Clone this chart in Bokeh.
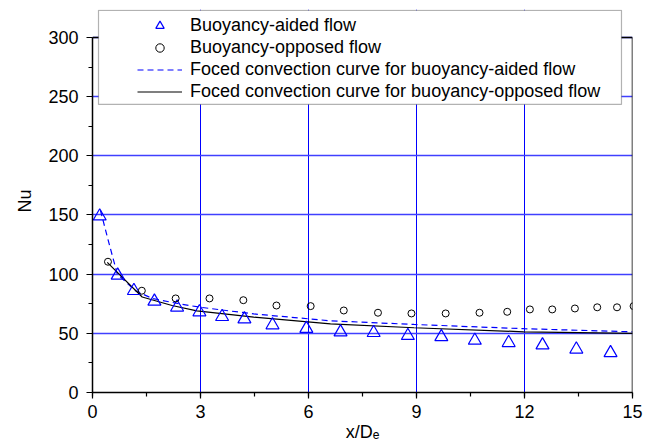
from bokeh.plotting import figure
from bokeh.models import (Range1d, SingleIntervalTicker, Legend, LegendItem,
                          BoxAnnotation)
from bokeh.embed import file_html
from bokeh.resources import INLINE

# ---- data ----
aided_x = [0.2, 0.7, 1.15, 1.72, 2.35, 2.97, 3.6, 4.22, 5.0, 5.94, 6.89, 7.81,
           8.76, 9.69, 10.62, 11.56, 12.5, 13.44, 14.39]
aided_y = [149, 99, 86, 77, 72, 68, 64, 62, 57, 54, 51, 50.5, 48, 47, 44, 42,
           40, 36.5, 33.5]

opposed_x = [0.43, 1.37, 2.31, 3.25, 4.19, 5.11, 6.06, 6.98, 7.93, 8.86, 9.81,
             10.75, 11.52, 12.15, 12.77, 13.4, 14.02, 14.57, 15.03]
opposed_y = [110.5, 86, 79.5, 79.5, 78, 73.5, 73, 69.3, 67.4, 66.8, 66.8, 67.4,
             68.2, 70.2, 70.2, 71, 72, 72, 73]

forced_aided_x = [0.22, 0.45, 0.69, 1.19, 1.66, 2.4, 3.0, 4.48, 6.61, 8.93, 11.98, 15.0]
forced_aided_y = [154, 127, 100, 86, 79.5, 75, 72, 66.4, 60.6, 57.5, 53.9, 51.3]

forced_opposed_x = [0.41, 1.38, 2.21, 2.9, 4.48, 6.61, 8.93, 11.98, 15.0]
forced_opposed_y = [110, 80.7, 73.5, 69.0, 63.7, 58, 54.7, 51.3, 49.9]

labels = ["Buoyancy-aided flow",
          "Buoyancy-opposed flow",
          "Foced convection curve for buoyancy-aided flow",
          "Foced convection curve for buoyancy-opposed flow"]

X_MAX = 15
Y_MAX = 300

FONT = "Liberation Sans"
BLUE = "#0000ff"

# the frame reaches above y=300 so that the legend box (which overlaps the
# top of the axes box) is not clipped; the axes box itself is drawn to 300.
p = figure(width=659, height=448, output_backend="svg", toolbar_location=None,
           x_range=Range1d(0, X_MAX), y_range=Range1d(0, 323.66),
           min_border_left=92, min_border_right=27,
           min_border_top=9, min_border_bottom=56)
p.background_fill_color = "white"
p.border_fill_color = "white"
p.outline_line_color = None

# axes
p.xaxis.ticker = SingleIntervalTicker(interval=3, num_minor_ticks=2)
p.yaxis.ticker = SingleIntervalTicker(interval=50, num_minor_ticks=2)
p.yaxis.bounds = (0, Y_MAX)
for ax in (p.xaxis[0], p.yaxis[0]):
    ax.axis_line_color = "black"
    ax.axis_line_width = 1.5
    ax.major_tick_line_color = "black"
    ax.minor_tick_line_color = "black"
    ax.major_tick_line_width = 1.2
    ax.minor_tick_line_width = 1.2
    ax.major_tick_in = 0
    ax.minor_tick_in = 0
    ax.major_tick_out = 6
    ax.minor_tick_out = 4
    ax.major_label_text_font = FONT
    ax.major_label_text_font_size = "18px"
    ax.major_label_text_color = "black"
    ax.axis_label_text_font = FONT
    ax.axis_label_text_font_size = "18px"
    ax.axis_label_text_font_style = "normal"
    ax.axis_label_text_color = "black"
p.xaxis.major_label_standoff = 6
p.yaxis.major_label_standoff = 8
p.yaxis.axis_label = "Nu"
p.yaxis.axis_label_standoff = 10
p.xaxis.axis_label = "x/D\u2091"
p.xaxis.axis_label_standoff = 1

# grid
p.xgrid.grid_line_color = BLUE
p.xgrid.grid_line_width = 1
p.xgrid.bounds = (0, Y_MAX)
p.ygrid.grid_line_color = "#4040ff"
p.ygrid.grid_line_width = 1.3

# glyphs
r_line_a = p.line(forced_aided_x, forced_aided_y, line_color=BLUE,
                  line_width=1.2, line_dash="6 4")
r_line_o = p.line(forced_opposed_x, forced_opposed_y, line_color="black",
                  line_width=1.2)
r_tri = p.scatter(aided_x, aided_y, marker="triangle", size=13,
                  fill_color=None, line_color=BLUE, line_width=1.2)
r_circ = p.scatter(opposed_x, opposed_y, marker="circle", size=7,
                   fill_color=None, line_color="black", line_width=1)

# top and right sides of the axes box
p.segment(x0=[0, X_MAX], y0=[Y_MAX, 0], x1=[X_MAX, X_MAX], y1=[Y_MAX, Y_MAX],
          line_color="black", line_width=1.5)

# legend box
box = BoxAnnotation(left=0.1667, right=14.694, bottom=243.4, top=323.0,
                    fill_color="white", fill_alpha=1.0,
                    line_color="black", line_width=1.2)
p.add_layout(box)

legend = Legend(items=[LegendItem(label=labels[0], renderers=[r_tri]),
                       LegendItem(label=labels[1], renderers=[r_circ]),
                       LegendItem(label=labels[2], renderers=[r_line_a]),
                       LegendItem(label=labels[3], renderers=[r_line_o])],
                location=(45, 290), padding=0, margin=0, spacing=1,
                glyph_width=45, glyph_height=21, label_height=21,
                label_standoff=8,
                label_text_font=FONT, label_text_font_size="18px",
                label_text_color="black",
                border_line_alpha=0, background_fill_alpha=0)
p.add_layout(legend, "center")

open("out.html", "w").write(file_html(p, INLINE))
